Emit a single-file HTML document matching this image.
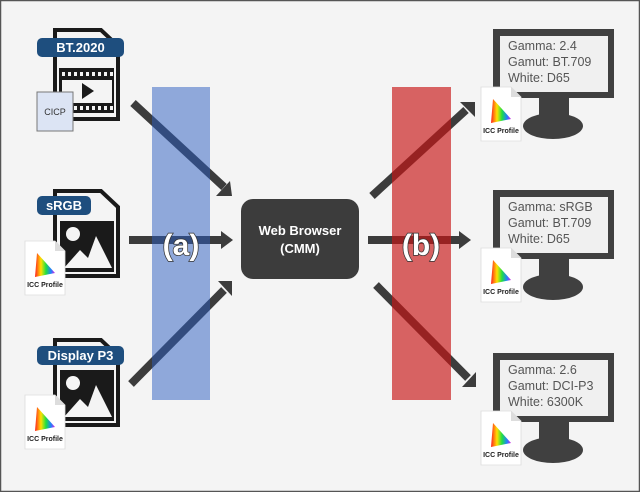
<!DOCTYPE html>
<html><head><meta charset="utf-8"><style>
html,body{margin:0;padding:0;background:#f4f4f4}
svg{display:block}
text{font-family:"Liberation Sans",sans-serif}
</style></head><body>
<svg width="640" height="492" viewBox="0 0 640 492" xmlns="http://www.w3.org/2000/svg">
<defs>
<linearGradient id="rb" x1="0" y1="0" x2="1" y2="0">
<stop offset="0" stop-color="#ff2020"/><stop offset="0.3" stop-color="#ffe000"/><stop offset="0.55" stop-color="#20e040"/><stop offset="0.8" stop-color="#2080ff"/><stop offset="1" stop-color="#e020e0"/>
</linearGradient>
<g id="icc">
<path d="M0 0 H30 L40 10 V54 H0 Z" fill="#fff" stroke="#ddd" stroke-width="0.8"/>
<path d="M30 0 V10 H40 Z" fill="#ddd"/>
<path d="M12 12 L30 32 L10 36 Z" fill="url(#rb)"/>
<text x="20" y="46" font-size="7" font-weight="bold" text-anchor="middle" fill="#222">ICC Profile</text>
</g>
<g id="mon">
<rect x="493" y="0" width="121" height="69" fill="#404040"/>
<rect x="500" y="7" width="108" height="56" fill="#f0f0f0"/>
<rect x="539" y="68" width="30" height="24" fill="#404040"/>
<ellipse cx="553" cy="97" rx="30" ry="13" fill="#404040"/>
</g>
</defs>
<rect x="0.5" y="0.5" width="639" height="491" fill="#f4f4f4" stroke="#555" stroke-width="1.5"/>

<g stroke="#3c3c3c" stroke-width="8" fill="#3c3c3c">
<line x1="133" y1="103" x2="224" y2="187"/>
<line x1="129" y1="240" x2="222" y2="240"/>
<line x1="131" y1="384" x2="224" y2="290"/>
<line x1="372" y1="196" x2="466" y2="110"/>
<line x1="368" y1="240" x2="460" y2="240"/>
<line x1="376" y1="285" x2="468" y2="378"/>
</g>
<g fill="#3c3c3c">
<polygon points="232,196 216,196 230,181"/>
<polygon points="233,240 221,231 221,249"/>
<polygon points="232,281 232,296 218,281"/>
<polygon points="475,102 460,102 475,117"/>
<polygon points="471,240 459,231 459,249"/>
<polygon points="476,387 476,372 462,387"/>
</g>

<rect x="152" y="87" width="58" height="313" fill="#2a5cc0" opacity="0.5"/>
<rect x="392" y="87" width="59" height="313" fill="#c81414" opacity="0.65"/>
<text x="181" y="255" font-size="30" text-anchor="middle" fill="#fff" stroke="#333" stroke-width="1.5" paint-order="stroke" font-weight="bold">(a)</text>
<text x="421" y="255" font-size="30" text-anchor="middle" fill="#fff" stroke="#333" stroke-width="1.5" paint-order="stroke" font-weight="bold">(b)</text>

<rect x="241" y="199" width="118" height="80" rx="12" fill="#3c3c3c"/>
<text x="300" y="235" font-size="13" text-anchor="middle" fill="#fff" font-weight="bold">Web Browser</text>
<text x="300" y="253" font-size="13" text-anchor="middle" fill="#fff" font-weight="bold">(CMM)</text>

<path d="M55 30 H101 L118 46 V119 H55 Z" fill="#f4f4f4" stroke="#1a1a1a" stroke-width="4"/>
<rect x="59" y="68" width="55" height="45" fill="#1a1a1a"/>
<g fill="#f4f4f4">
<rect x="62" y="72" width="3" height="4"/><rect x="68" y="72" width="3" height="4"/><rect x="74" y="72" width="3" height="4"/><rect x="80" y="72" width="3" height="4"/><rect x="86" y="72" width="3" height="4"/><rect x="92" y="72" width="3" height="4"/><rect x="98" y="72" width="3" height="4"/><rect x="104" y="72" width="3" height="4"/><rect x="110" y="72" width="3" height="4"/>
<rect x="62" y="106" width="3" height="4"/><rect x="68" y="106" width="3" height="4"/><rect x="74" y="106" width="3" height="4"/><rect x="80" y="106" width="3" height="4"/><rect x="86" y="106" width="3" height="4"/><rect x="92" y="106" width="3" height="4"/><rect x="98" y="106" width="3" height="4"/><rect x="104" y="106" width="3" height="4"/><rect x="110" y="106" width="3" height="4"/>
<rect x="62" y="80" width="50" height="23"/>
</g>
<polygon points="82,83 94,91 82,99" fill="#1a1a1a"/>
<rect x="37" y="38" width="87" height="19" rx="5" fill="#1e4e7e"/>
<text x="80.5" y="52" font-size="13" font-weight="bold" text-anchor="middle" fill="#fff">BT.2020</text>
<rect x="37" y="92" width="36" height="39" fill="#dce4f4" stroke="#777" stroke-width="1"/>
<text x="55" y="115" font-size="9" text-anchor="middle" fill="#333">CICP</text>

<g id="imgfile">
<path d="M55 191 H101 L118 207 V276 H55 Z" fill="#f4f4f4" stroke="#1a1a1a" stroke-width="4"/>
<rect x="60" y="221" width="54" height="51" fill="#1a1a1a"/>
<circle cx="73" cy="234" r="7" fill="#f4f4f4"/>
<polygon points="64,268 80,250 88,258 96,236 112,268" fill="#f4f4f4"/>
</g>
<rect x="37" y="196" width="54" height="19" rx="5" fill="#1e4e7e"/>
<text x="64" y="210" font-size="13" font-weight="bold" text-anchor="middle" fill="#fff">sRGB</text>
<use href="#icc" x="25" y="241"/>

<use href="#imgfile" y="149"/>
<rect x="37" y="346" width="87" height="19" rx="5" fill="#1e4e7e"/>
<text x="80.5" y="360" font-size="13" font-weight="bold" text-anchor="middle" fill="#fff">Display P3</text>
<use href="#icc" x="25" y="395"/>

<use href="#mon" y="29"/>
<use href="#mon" y="190"/>
<use href="#mon" y="353"/>
<g font-size="12.5" fill="#555">
<text x="508" y="50">Gamma: 2.4</text><text x="508" y="66">Gamut: BT.709</text><text x="508" y="82">White: D65</text>
<text x="508" y="211">Gamma: sRGB</text><text x="508" y="227">Gamut: BT.709</text><text x="508" y="243">White: D65</text>
<text x="508" y="374">Gamma: 2.6</text><text x="508" y="390">Gamut: DCI-P3</text><text x="508" y="406">White: 6300K</text>
</g>
<use href="#icc" x="481" y="87"/>
<use href="#icc" x="481" y="248"/>
<use href="#icc" x="481" y="411"/>
</svg>
</body></html>
